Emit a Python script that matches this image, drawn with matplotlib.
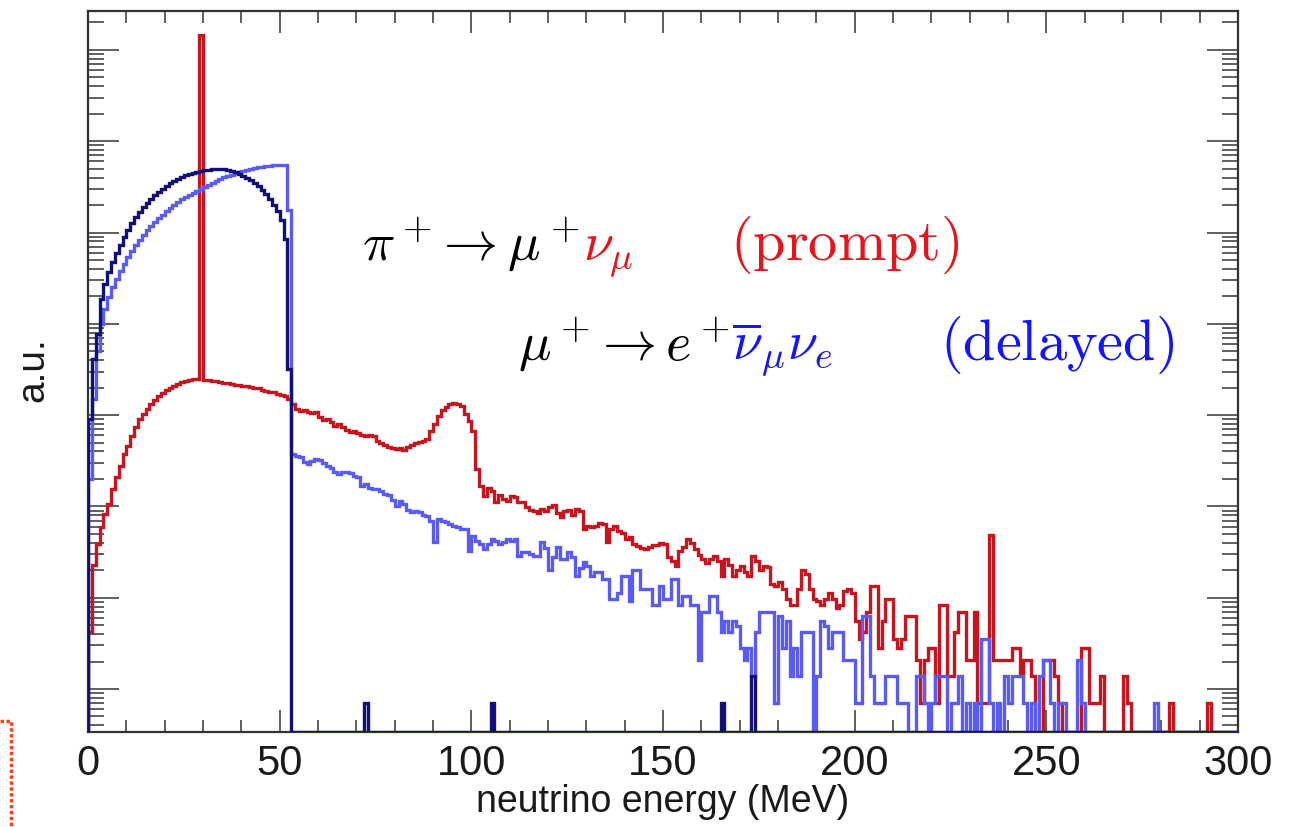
import numpy as np
import matplotlib
matplotlib.use('Agg')
from matplotlib import pyplot as plt
from matplotlib.ticker import LogLocator, MultipleLocator, NullFormatter
from matplotlib.lines import Line2D

W, H = 1294, 828
plt.rcParams['font.family'] = ['Liberation Sans', 'DejaVu Sans']
plt.rcParams['mathtext.fontset'] = 'cm'

# 1 MeV bins from 0 to 300 MeV, contents in counts
edges = np.arange(0, 301, 1)
au_per_count = 0.7

# pi+ -> mu+ nu_mu (prompt), red
red_0_52 = [6, 33, 55, 85, 117, 151, 221, 299, 394, 534,
            653, 840, 1054, 1291, 1463, 1660, 1884, 2084, 2305, 2485,
            2681, 2820, 2965, 3119, 3281, 3365, 3451, 3540, 3540, 20700000,
            3451, 3451, 3365, 3365, 3281, 3199, 3199, 3119, 3041, 3041,
            2965, 2965, 2891, 2820, 2820, 2681, 2614, 2549, 2549, 2423,
            2363, 2305, 2136]
red_53_130 = [1884, 1660, 1578, 1618, 1539, 1500, 1539, 1358, 1259, 1291,
              1196, 1081, 1137, 1054, 977, 929, 953, 906, 861, 840,
              861, 840, 741, 704, 670, 637, 621, 605, 621, 590,
              637, 670, 704, 722, 741, 779, 953, 1137, 1390, 1618,
              1746, 1884, 1932, 1884, 1791, 1463, 1227, 953, 366, 238,
              185, 226, 210, 159, 190, 171, 163, 185, 180, 159,
              159, 140, 130, 127, 120, 133, 127, 140, 147, 120,
              109, 127, 130, 115, 133, 127, 80, 87]
red_131_200 = [85, 87, 94, 91, 58, 80, 87, 77, 73, 63,
               66, 55, 52, 50, 49, 51, 54, 54, 57, 55,
               40, 36, 32, 46, 51, 63, 57, 49, 42, 38,
               34, 38, 41, 36, 25, 38, 33, 25, 29, 32,
               27, 25, 41, 36, 29, 32, 31, 20, 19, 21,
               18, 14, 12, 12, 18, 29, 26, 18, 14, 13,
               12, 14, 16, 14, 11, 12, 17, 18, 16, 8]
red_201_299 = [5, 6, 10, 19, 19, 4, 8, 14, 14, 5,
               4, 5, 9, 9, 9, 3, 1, 3, 4, 4,
               1, 12, 12, 2, 2, 6, 10, 10, 3, 3,
               10, 1, 1, 1, 69, 3, 3, 3, 3, 3,
               4, 4, 2, 3, 3, 2, 0, 0, 3, 3,
               3, 2, 1, 0, 0, 0, 0, 0, 4, 4,
               1, 1, 1, 2, 0, 0, 0, 0, 0, 2,
               1, 0, 0, 0, 0, 0, 0, 0, 0, 0,
               0, 1, 0, 0, 0, 0, 0, 0, 0, 0,
               0, 1, 0, 0, 0, 0, 0, 0, 0]

# mu+ decay, light blue (with the tail above 52.8 MeV)
blue_0_52 = [284, 2136, 7170, 14160, 20660, 27990, 35990, 44060, 53950, 64300,
             76700, 89300, 103800, 117800, 133600, 151600, 167800, 185400, 205200, 221400,
             244900, 264200, 285100, 307100, 331400, 348400, 366400, 385500, 405500, 426500,
             448700, 472000, 496400, 521600, 548400, 576800, 591600, 606700, 638300, 654600,
             671400, 688600, 706300, 724400, 743000, 743000, 762000, 762000, 781600, 781600,
             781600, 781600, 251200]
blue_53_130 = [534, 507, 500, 440, 415, 450, 470, 460, 430, 394,
               380, 340, 322, 339, 339, 330, 310, 299, 238, 250,
               230, 221, 221, 210, 195, 190, 170, 144, 163, 150,
               130, 124, 127, 125, 115, 112, 100, 58, 104, 100,
               96, 92, 87, 85, 80, 80, 46, 67, 60, 55,
               49, 55, 63, 60, 55, 58, 63, 60, 63, 41,
               45, 45, 43, 41, 41, 58, 50, 29, 40, 51,
               38, 38, 45, 40, 25, 30, 35, 32]
blue_131_158 = [25, 27, 27, 23, 23, 14, 14, 16, 25, 25,
                13, 29, 29, 18, 18, 18, 12, 12, 19, 14,
                14, 23, 23, 12, 15, 15, 12, 12]
blue_159_299 = [3, 10, 10, 15, 15, 10, 6, 8, 6, 8,
                7, 4, 3, 4, 2, 6, 10, 10, 10, 10,
                1, 9, 4, 8, 2, 4, 2, 6, 6, 6,
                0, 2, 8, 7, 4, 6, 6, 6, 3, 3,
                3, 1, 1, 9, 9, 2, 1, 1, 1, 2,
                2, 2, 1, 1, 1, 0, 0, 2, 2, 1,
                0, 1, 2, 2, 2, 0, 1, 1, 2, 0,
                1, 0, 1, 0, 5, 5, 1, 0, 1, 0,
                2, 1, 2, 2, 2, 1, 0, 1, 0, 2,
                3, 3, 1, 0, 1, 1, 0, 0, 0, 3,
                1, 0, 0, 0, 0, 0, 0, 0, 0, 0,
                0, 0, 0, 0, 0, 0, 0, 0, 0, 1,
                0, 0, 0, 0, 0, 0, 0, 0, 0, 0,
                0, 0, 0, 0, 0, 0, 0, 0, 0, 0,
                0]

# mu+ decay, dark blue (ends at 52.8 MeV) plus a few stray entries
navy_0_52 = [1290, 5860, 11000, 26600, 38800, 52600, 67600, 84900, 103800, 127000,
             151600, 180800, 210400, 238600, 271000, 299600, 331400, 366300, 395300, 426500,
             460000, 496400, 521600, 548400, 576800, 606700, 622300, 638300, 654600, 671400,
             688600, 688600, 706300, 706300, 706300, 706300, 688600, 671400, 654600, 622300,
             591600, 562300, 535000, 496400, 460000, 415700, 375800, 331400, 285100, 244900,
             195100, 120800, 4550]
navy_stray_bins = [72, 105, 165, 173]
navy_stray_counts = [1, 1, 1, 2]

red = np.array(red_0_52 + red_53_130 + red_131_200 + red_201_299, float)
blue = np.array(blue_0_52 + blue_53_130 + blue_131_158 + blue_159_299, float)
navy = np.zeros(300)
navy[:53] = navy_0_52
navy[navy_stray_bins] = navy_stray_counts

RED = '#c8141e'
BLUE = '#5a5af5'
NAVY = '#101078'
YMIN, YMAX = 0.338, 2.67e7

fig = plt.figure(figsize=(W / 100, H / 100), dpi=100)
ax = fig.add_axes([88 / W, 1 - 733 / H, (1238 - 88) / W, (733 - 12) / H])


def show(counts):
    v = counts * au_per_count
    return np.where(v > 0, v, YMIN)


ax.stairs(show(red), edges, baseline=YMIN, color=RED, lw=2.4, zorder=2)
ax.stairs(show(blue), edges, baseline=YMIN, color=BLUE, lw=2.4, zorder=3)
ax.stairs(show(navy), edges, baseline=YMIN, color=NAVY, lw=2.4, zorder=4)

ax.set_yscale('log')
ax.set_xlim(0, 300)
ax.set_ylim(YMIN, YMAX)

ax.xaxis.set_major_locator(MultipleLocator(50))
ax.xaxis.set_minor_locator(MultipleLocator(10))
ax.yaxis.set_major_locator(LogLocator(base=10, numticks=20))
ax.yaxis.set_minor_locator(LogLocator(base=10, subs=np.arange(2, 10), numticks=20))
ax.yaxis.set_major_formatter(NullFormatter())
ax.yaxis.set_minor_formatter(NullFormatter())

ax.tick_params(which='both', direction='in', top=True, right=True,
               color='#444444', width=1.2)
ax.tick_params(axis='x', which='major', length=16, labelsize=30, pad=8,
               labelcolor='#1a1a1a')
ax.tick_params(axis='x', which='minor', length=8.5)
ax.tick_params(axis='y', which='major', length=22)
ax.tick_params(axis='y', which='minor', length=11.5)
for s in ax.spines.values():
    s.set_linewidth(1.6)
    s.set_color('#333333')

ax.set_xlabel('neutrino energy (MeV)', fontsize=27, labelpad=0, color='#1a1a1a')
fig.text(33 / W, 1 - 370 / H, 'a.u.', rotation=90, ha='center', va='center',
         fontsize=28, color='#1a1a1a')

# decay annotations: the coloured neutrinos follow right after the black part
TRED = '#e8141b'
TBLUE = '#1414ff'
fig.canvas.draw()
rend = fig.canvas.get_renderer()


def ftext(x, y, s, c, fs):
    t = fig.text(x / W, 1 - y / H, s, color=c, fontsize=fs, ha='left', va='baseline')
    return t.get_window_extent(renderer=rend).x1


x = ftext(362, 260, r'$\pi^+\!\rightarrow\mu^+$', 'black', 39)
ftext(x + 3, 260, r'$\nu_\mu$', TRED, 39)
ftext(730, 260, r'$\mathrm{(prompt)}$', TRED, 42)
x = ftext(518, 360, r'$\mu^+\!\rightarrow e^+$', 'black', 39)
ftext(x + 2, 360, r'$\overline{\nu}_\mu\nu_e$', TBLUE, 39)
ftext(940, 360, r'$\mathrm{(delayed)}$', TBLUE, 42)

# red crop mark in the lower left corner
fig.add_artist(Line2D([0, 11 / W, 11 / W], [1 - 722 / H, 1 - 722 / H, 0],
                      transform=fig.transFigure, color='#ff4020', lw=2.5,
                      ls=(0, (1, 0.7))))

fig.savefig('out.png', dpi=100)
